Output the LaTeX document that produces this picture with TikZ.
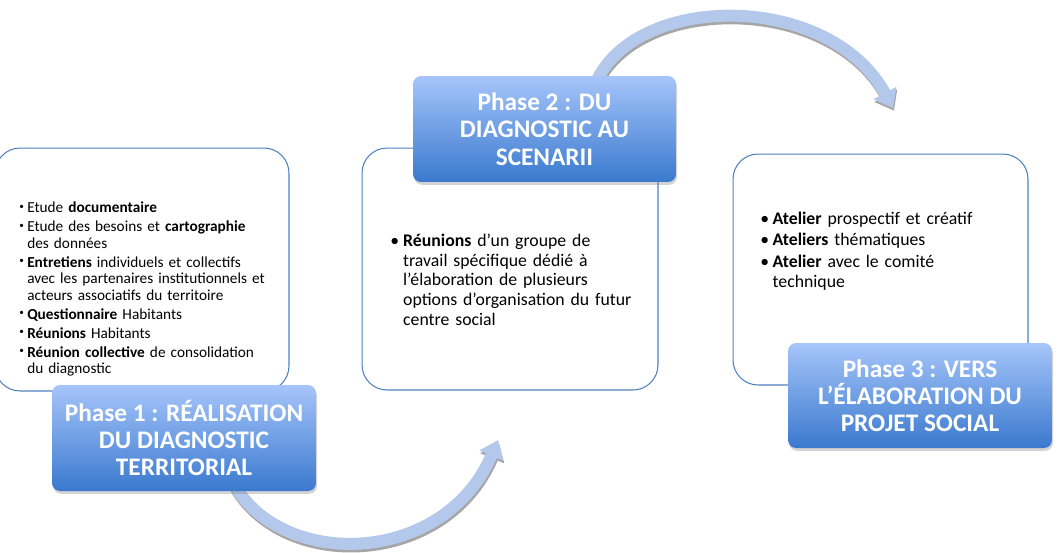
\documentclass[tikz,border=0pt]{standalone}
\usepackage{fontspec}
\setmainfont{Carlito}
\usepackage{tikz}
\usetikzlibrary{positioning,arrows.meta,shadows}

\definecolor{boxline}{RGB}{79,129,189}
\definecolor{phasetop}{RGB}{166,197,250}
\definecolor{phasebot}{RGB}{58,121,206}
\definecolor{arrowblue}{RGB}{180,200,236}

\tikzset{
  listbox/.style={draw=boxline,line width=0.6pt,rounded corners=0.5cm,fill=white},
  phasebox/.style={rounded corners=0.16cm,top color=phasetop,bottom color=phasebot,
    drop shadow={shadow xshift=0.6pt,shadow yshift=-1.6pt,opacity=0.35},
    text=white,font=\fontsize{14.4}{15.5}\selectfont\bfseries,align=center},
  listtext/.style={anchor=north west,inner sep=0pt,align=left},
  bigarrow/.style={line width=0.24cm,draw=arrowblue,
    -{Triangle[width=0.5cm,length=0.34cm]}},
  arrowshadow/.style={line width=0.24cm,draw=black!35,
    -{Triangle[width=0.5cm,length=0.34cm]}}
}

\newcommand{\smallitem}[1]{\par\hangindent=4.5pt\hangafter=1\makebox[4.5pt][l]{\raisebox{2pt}{\scalebox{0.6}{\textbullet}}}#1}
\newcommand{\bigitem}[2]{\par\hangindent=#1\hangafter=1\makebox[#1][l]{\textbullet}#2}

\begin{document}
\begin{tikzpicture}[x=0.02cm,y=-0.02cm]
  \useasboundingbox (0,0) rectangle (1061,552);

  % white boxes
  \node (box1) [listbox,minimum width=5.88cm,minimum height=4.86cm] at (142,269.5) {};
  \node (box2) [listbox,minimum width=5.92cm,minimum height=4.84cm] at (510,269) {};
  \node (box3) [listbox,minimum width=5.90cm,minimum height=4.62cm] at (880.5,269.5) {};

  \node (list1) [listtext,text width=5.5cm,font=\fontsize{8.7}{9.4}\selectfont] at (19,196) {%
    \smallitem{Etude \textbf{documentaire}}\vspace{1.4pt}
    \smallitem{Etude des besoins et \textbf{cartographie}\newline des données}\vspace{1.4pt}
    \smallitem{\textbf{Entretiens} individuels et collectifs\newline avec les partenaires institutionnels et\newline acteurs associatifs du territoire}\vspace{1.4pt}
    \smallitem{\textbf{Questionnaire} Habitants}\vspace{1.4pt}
    \smallitem{\textbf{Réunions} Habitants}\vspace{1.4pt}
    \smallitem{\textbf{Réunion collective} de consolidation\newline du diagnostic}\par};

  \node (list2) [listtext,text width=5.4cm,font=\fontsize{10.1}{11.3}\selectfont] at (390,226) {%
    \bigitem{7.3pt}{\textbf{Réunions} d’un groupe de\newline travail spécifique dédié à\newline l’élaboration de plusieurs\newline options d’organisation du futur\newline centre social}\par};

  \node (list3) [listtext,text width=5.4cm,font=\fontsize{10.1}{11.3}\selectfont] at (760,204) {%
    \bigitem{7pt}{\textbf{Atelier} prospectif et créatif}\vspace{1pt}
    \bigitem{7pt}{\textbf{Ateliers} thématiques}\vspace{1pt}
    \bigitem{7pt}{\textbf{Atelier} avec le comité\newline technique}\par};

  % curved arrows
  \coordinate (a1s) at (235,486);
  \coordinate (a1e) at (498,440);
  \coordinate (a2s) at (597,80);
  \coordinate (a2e) at (893,108);
  \draw[arrowshadow,transform canvas={xshift=0.5pt,yshift=-1.5pt}]
    (a1s) .. controls (285,570) and (445,565) .. (a1e);
  \draw[bigarrow] (a1s) .. controls (285,570) and (445,565) .. (a1e);
  \draw[arrowshadow,transform canvas={xshift=0.5pt,yshift=-1.5pt}]
    (a2s) .. controls (640,-8) and (830,-8) .. (a2e);
  \draw[bigarrow] (a2s) .. controls (640,-8) and (830,-8) .. (a2e);

  % phase boxes
  \node (ph1) [phasebox,minimum width=5.28cm,minimum height=2.12cm] at (184,438)
    {Phase 1 : RÉALISATION\\DU DIAGNOSTIC\\TERRITORIAL};
  \node (ph2) [phasebox,minimum width=5.26cm,minimum height=2.12cm] at (544.5,129)
    {Phase 2 : DU\\DIAGNOSTIC AU\\SCENARII};
  \node (ph3) [phasebox,minimum width=5.28cm,minimum height=2.10cm] at (920,395.5)
    {Phase 3 : VERS\\L’ÉLABORATION DU\\PROJET SOCIAL};
\end{tikzpicture}
\end{document}
